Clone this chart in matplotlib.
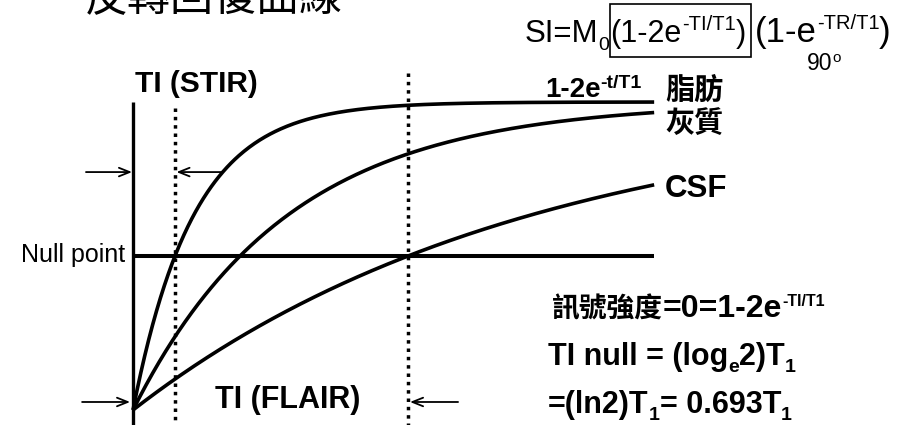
import numpy as np
import matplotlib
matplotlib.use("Agg")
import matplotlib.pyplot as plt
from matplotlib.transforms import Affine2D
from matplotlib.patches import Rectangle

# Longitudinal recovery after a 180° inversion: Mz/M0 = 1 - 2 exp(-t/T1)
tissues = ["脂肪", "灰質", "CSF"]
t1_values = [0.25, 0.637, 1.637]          # T1 in seconds
t_end = 2.15                              # length of the time axis (s)
null_labels = ["TI (STIR)", "TI (FLAIR)"]  # nulling fat / CSF

W, H, DPI = 923, 425, 100
fig = plt.figure(figsize=(W / DPI, H / DPI), dpi=DPI)
fig.patch.set_facecolor("white")
ax = fig.add_axes([0, 0, 1, 1])
ax.set_xlim(-0.5487, 3.2591)
ax.set_ylim(-1.0974, 1.6623)
ax.axis("off")

LATIN = ["Liberation Sans", "DejaVu Sans"]
CJK = ["Noto Sans CJK TC", "DejaVu Sans"]

# signal axis and null-point line
ax.plot([0, 0], [1.0, -1.2], color="k", lw=2.4, solid_capstyle="butt")
ax.plot([0, t_end], [0, 0], color="k", lw=2.9, solid_capstyle="butt")

# recovery curves
t = np.linspace(0, t_end, 400)
for T1 in t1_values:
    ax.plot(t, 1 - 2 * np.exp(-t / T1), color="k", lw=2.6,
            solid_capstyle="butt", solid_joinstyle="round")

# inversion times that null fat (STIR) and CSF (FLAIR): TI = ln2 * T1
ti_stir = np.log(2) * t1_values[0]
ti_flair = np.log(2) * t1_values[2]
dot = dict(color="k", lw=2.5, linestyle=(0, (1, 1.4)), dash_capstyle="butt")
ax.plot([ti_stir, ti_stir], [0.961, -1.2], **dot)
ax.plot([ti_flair, ti_flair], [1.188, -1.2], **dot)

# interval arrows
arw = dict(arrowstyle="->,head_length=0.55,head_width=0.22", color="k",
           lw=1.3, shrinkA=0, shrinkB=0, mutation_scale=14)
y_top, y_bot = 0.545, -0.948
ax.annotate("", xy=(-0.004, y_top), xytext=(-0.194, y_top), arrowprops=arw)
ax.annotate("", xy=(ti_stir + 0.006, y_top), xytext=(0.367, y_top), arrowprops=arw)
ax.annotate("", xy=(-0.012, y_bot), xytext=(-0.210, y_bot), arrowprops=arw)
ax.annotate("", xy=(ti_flair + 0.008, y_bot), xytext=(1.341, y_bot), arrowprops=arw)

# text placed in pixel coordinates measured from the top-left corner
pix = Affine2D().scale(1, -1).translate(0, H)
renderer = fig.canvas.get_renderer()


def rich(x, y, parts, weight="bold"):
    """Draw a run of text pieces side by side; each piece is
    (text, size, baseline shift in px, family)."""
    for s, size, dy, fam in parts:
        txt = fig.text(x, y - dy, s, transform=pix, fontsize=size,
                       family=fam, weight=weight, va="baseline", ha="left")
        x = txt.get_window_extent(renderer=renderer).x1
    return x


fig.text(85, 11, "反轉回復曲線", transform=pix, fontsize=31, family=CJK,
         va="baseline", ha="left")

fig.text(135, 92, null_labels[0], transform=pix, fontsize=21.5, family=LATIN,
         weight="bold", va="baseline")
fig.text(215, 408, null_labels[1], transform=pix, fontsize=22, family=LATIN,
         weight="bold", va="baseline")
fig.text(125, 262, "Null point", transform=pix, fontsize=18, family=LATIN,
         va="baseline", ha="right")

# curve labels
rich(545, 97, [("1-2e", 20, 0, LATIN), ("-t/T1", 14, 9, LATIN)])
fig.text(665, 99, tissues[0], transform=pix, fontsize=21, family=CJK,
         weight="bold", va="baseline")
fig.text(665, 132, tissues[1], transform=pix, fontsize=21, family=CJK,
         weight="bold", va="baseline")
fig.text(665, 197, tissues[2], transform=pix, fontsize=22.5, family=LATIN,
         weight="bold", va="baseline")

# signal equation with the inversion term boxed
x = rich(525, 42, [("SI=M", 22.5, 0, LATIN), ("0", 14, -8, LATIN)], weight="normal")
box_x0 = x
x = rich(x + 1, 42, [("(1-2e", 22, 0, LATIN), ("-TI/T1", 14.5, 12, LATIN),
                     (")", 22, 0, LATIN)], weight="normal")
fig.add_artist(Rectangle((box_x0, H - 57), x + 5 - box_x0, 53, transform=None,
                         fill=False, ec="k", lw=1.2))
rich(x + 9, 42, [("(1-e", 25, 0, LATIN), ("-TR/T1", 14.5, 13, LATIN),
                 (")", 25, 0, LATIN)], weight="normal")
rich(807, 70, [("90", 16.5, 0, LATIN), ("o", 11, 8, LATIN)], weight="normal")

# null condition
rich(552, 317, [("訊號強度", 20, 0, CJK), ("=0=1-2e", 23, 0, LATIN),
                ("-TI/T1", 11.5, 11, LATIN)])
rich(548, 365, [("TI null = (log", 22, 0, LATIN), ("e", 14, -7, LATIN),
                ("2)T", 22, 0, LATIN), ("1", 14, -7, LATIN)])
rich(548, 413, [("=(ln2)T", 22, 0, LATIN), ("1", 14, -7, LATIN),
                ("= 0.693T", 22, 0, LATIN), ("1", 14, -7, LATIN)])

fig.savefig("out.png", dpi=DPI, facecolor="white")
